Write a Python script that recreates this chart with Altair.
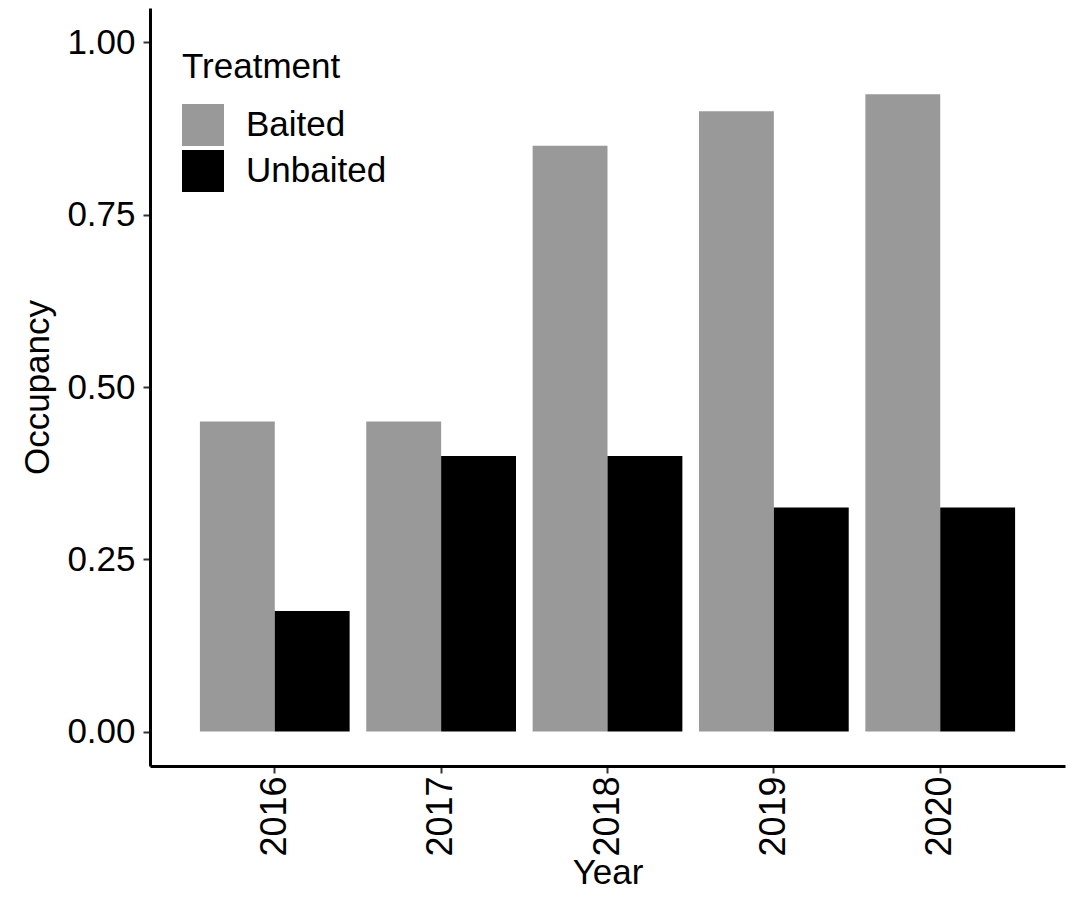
import altair as alt
import pandas as pd

years = ["2016", "2017", "2018", "2019", "2020"]
baited = [0.45, 0.45, 0.85, 0.90, 0.925]
unbaited = [0.175, 0.40, 0.40, 0.325, 0.325]
treatments = ["Baited", "Unbaited"]
colors = ["#999999", "#000000"]
y_ticks = [0, 0.25, 0.5, 0.75, 1.0]

rows = []
for yr, b, u in zip(years, baited, unbaited):
    rows.append({"Year": yr, "Treatment": "Baited", "Occupancy": b})
    rows.append({"Year": yr, "Treatment": "Unbaited", "Occupancy": u})
df = pd.DataFrame(rows)

FONT = "Liberation Sans"
FS = 35

chart = (
    alt.Chart(df)
    .mark_bar()
    .encode(
        x=alt.X(
            "Year:N",
            sort=years,
            scale=alt.Scale(paddingInner=0.1, paddingOuter=0.3),
            axis=alt.Axis(
                title="Year",
                labelAngle=-90,
                labelPadding=3,
                labelFontSize=36,
                titleY=117,
                titleBaseline="alphabetic",
            ),
        ),
        xOffset=alt.XOffset(
            "Treatment:N",
            sort=treatments,
            scale=alt.Scale(paddingInner=0, paddingOuter=0),
        ),
        y=alt.Y(
            "Occupancy:Q",
            scale=alt.Scale(domain=[-0.05, 1.05], nice=False, zero=False),
            axis=alt.Axis(
                title="Occupancy",
                values=y_ticks,
                format=".2f",
                labelPadding=8,
                titlePadding=11,
            ),
        ),
        y2=alt.datum(0),
        color=alt.Color(
            "Treatment:N",
            sort=treatments,
            scale=alt.Scale(domain=treatments, range=colors),
            legend=alt.Legend(
                title="Treatment",
                orient="none",
                legendX=32,
                legendY=42,
                symbolType="square",
                symbolSize=1764,
                symbolStrokeWidth=0,
                symbolOpacity=1,
                labelFontSize=FS,
                labelFont=FONT,
                labelColor="#000000",
                labelOffset=22,
                titleFontSize=FS,
                titleFont=FONT,
                titleFontWeight="normal",
                titleColor="#000000",
                titlePadding=19,
                rowPadding=4,
                padding=0,
            ),
        ),
    )
    .properties(
        width=915,
        height=758,
        autosize=alt.AutoSizeParams(type="none"),
        padding={"left": 142, "top": 0, "right": 5, "bottom": 125},
    )
    .configure_view(stroke=None)
    .configure_axis(
        grid=False,
        domainColor="#000000",
        domainWidth=3,
        tickColor="#333333",
        tickWidth=2,
        tickSize=7,
        labelFont=FONT,
        labelFontSize=FS,
        labelColor="#000000",
        titleFont=FONT,
        titleFontSize=FS,
        titleFontWeight="normal",
        titleColor="#000000",
    )
)

chart.save("out.html", embed_options={"renderer": "svg", "actions": False})
